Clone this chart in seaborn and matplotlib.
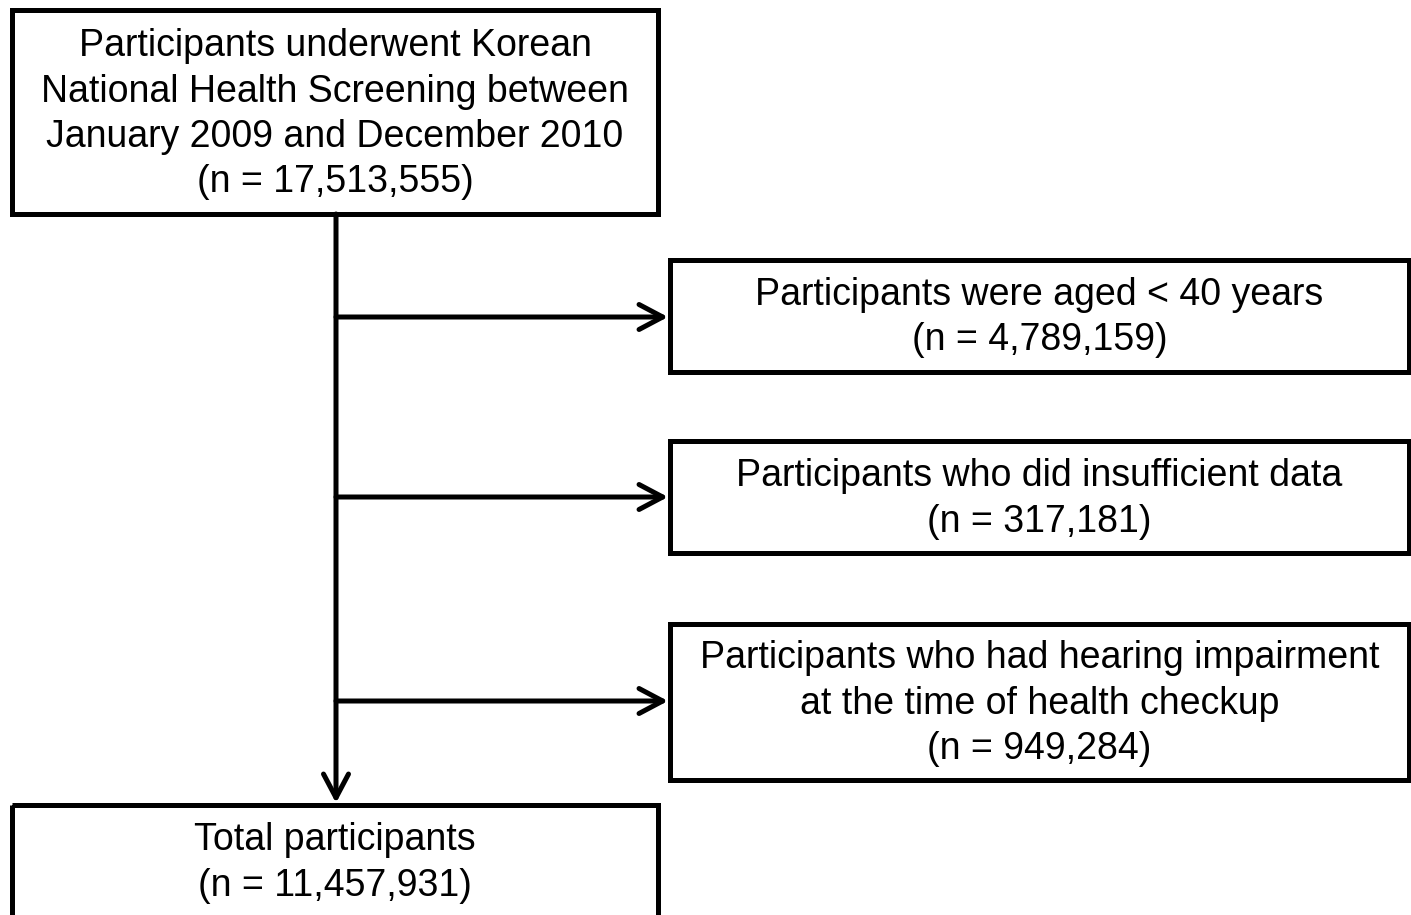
import matplotlib.pyplot as plt
import matplotlib.patches as mpatches
import seaborn as sns

# ── Flowchart content ────────────────────────────────────────────────────────
top_text = ["Participants underwent Korean",
            "National Health Screening between",
            "January 2009 and December 2010"]
top_n = 17513555

excl_text = [["Participants were aged < 40 years"],
             ["Participants who did insufficient data"],
             ["Participants who had hearing impairment",
              "at the time of health checkup"]]
excl_n = [4789159, 317181, 949284]

final_text = ["Total participants"]
final_n = 11457931

sns.set_theme(style="white")
plt.rcParams["font.family"] = ["Liberation Sans", "DejaVu Sans"]

W, H = 1411, 915
fig = plt.figure(figsize=(W / 100, H / 100), dpi=100)
ax = fig.add_axes([0, 0, 1, 1])
ax.set_xlim(0, W)
ax.set_ylim(H, 0)
ax.axis("off")

LW = 3.6
FS = 27
LINE = 45.5
ARROW = dict(arrowstyle="->,head_length=0.85,head_width=0.45",
             mutation_scale=20, lw=LW, color="black", shrinkA=0, shrinkB=0)


def fmt_n(n):
    return f"(n = {n:,})"


def box(x0, y0, x1, y1, lines, ty):
    ax.add_patch(mpatches.Rectangle((x0, y0), x1 - x0, y1 - y0, fill=False,
                                    edgecolor="black", lw=LW, joinstyle="miter"))
    cx = (x0 + x1) / 2
    for i, t in enumerate(lines):
        ax.text(cx, ty + i * LINE, t, ha="center", va="center",
                fontsize=FS, color="black")


# top box
box(12, 10, 658, 214, top_text + [fmt_n(top_n)], 46)

# exclusion boxes with side arrows
ex_boxes = [(260, 372, 295, 317), (441, 553, 476, 497), (624, 780, 658, 701)]
for (y0, y1, ty, ay), txt, n in zip(ex_boxes, excl_text, excl_n):
    box(670, y0, 1409, y1, txt + [fmt_n(n)], ty)
    ax.annotate("", xy=(668, ay), xytext=(336, ay), arrowprops=ARROW)

# vertical trunk
ax.annotate("", xy=(336, 803), xytext=(336, 214), arrowprops=ARROW)

# final box (runs off the bottom edge)
box(12, 805, 658, 940, final_text + [fmt_n(final_n)], 840)

fig.savefig("out.png", dpi=100, facecolor="white")
